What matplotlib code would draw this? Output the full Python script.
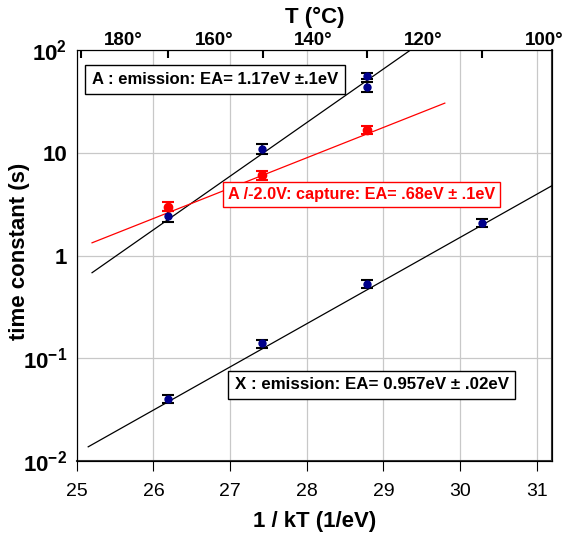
import numpy as np
import matplotlib
matplotlib.use("Agg")
import matplotlib.pyplot as plt

plt.rcParams['font.family'] = ['Liberation Sans', 'DejaVu Sans']
plt.rcParams['mathtext.fontset'] = 'custom'
plt.rcParams['mathtext.rm'] = 'Liberation Sans'
plt.rcParams['mathtext.bf'] = 'Liberation Sans:bold'

# data (x = 1/kT in 1/eV, y = time constant in s)
# A : emission (navy)
a_em_x = [26.19, 27.42, 28.79, 28.79]
a_em_y = [2.4, 11.0, 56.0, 44.0]
a_em_err = [0.3, 1.2, 4.0, 4.5]

# A /-2.0V capture (red)
a_cap_x = [26.19, 27.42, 28.79]
a_cap_y = [3.0, 6.1, 16.7]
a_cap_err = [0.3, 0.6, 1.6]

# X : emission (navy)
x_em_x = [26.19, 27.42, 28.79, 30.29]
x_em_y = [0.040, 0.139, 0.53, 2.08]
x_em_err = [0.0037, 0.012, 0.05, 0.2]

# fitted lines (end points)
a_em_line_x = [25.2, 29.35]
a_em_line_y = [0.68, 100.0]
a_cap_line_x = [25.2, 29.8]
a_cap_line_y = [1.33, 30.5]
x_em_line_x = [25.15, 31.2]
x_em_line_y = [0.0137, 4.8]

top_labels_T = [180, 160, 140, 120, 100]
top_ticks_T = [190, 170, 150, 130, 110, 100]
k_B = 8.617e-5


def inv_kT(t_c):
    return 1.0 / (k_B * (np.array(t_c) + 273.15))


fig = plt.figure(figsize=(5.64, 5.34), dpi=100)
ax = fig.add_axes([0.136, 0.137, 0.843, 0.769])

ax.set_yscale('log')
ax.set_xlim(25, 31.2)
ax.set_ylim(0.01, 100)

# lines
ax.plot(a_em_line_x, a_em_line_y, color='black', lw=0.9, zorder=3)
ax.plot(a_cap_line_x, a_cap_line_y, color='red', lw=0.9, zorder=3)
ax.plot(x_em_line_x, x_em_line_y, color='black', lw=0.9, zorder=3)

# points
ax.errorbar(a_em_x, a_em_y, yerr=a_em_err, fmt='o', color='#00008B', ms=5,
            ecolor='black', elinewidth=1.2, capsize=4, capthick=1.5, zorder=4)
ax.errorbar(a_cap_x, a_cap_y, yerr=a_cap_err, fmt='o', color='red', ms=6,
            ecolor='red', elinewidth=1.2, capsize=4, capthick=1.5, zorder=4)
ax.errorbar(x_em_x, x_em_y, yerr=x_em_err, fmt='o', color='#00008B', ms=5,
            ecolor='black', elinewidth=1.2, capsize=4, capthick=1.5, zorder=4)

# grid
ax.set_xticks([25, 26, 27, 28, 29, 30, 31])
ax.set_yticks([0.01, 0.1, 1, 10, 100])
ax.set_yticklabels([r'$\mathbf{10^{-2}}$', r'$\mathbf{10^{-1}}$', '1', '10', r'$\mathbf{10^{2}}$'],
                   fontsize=16, fontweight='bold')
ax.yaxis.set_minor_locator(matplotlib.ticker.NullLocator())
ax.grid(True, which='major', color='#c8c8c8', lw=0.9)
ax.set_axisbelow(True)
ax.tick_params(axis='x', direction='out', length=7, labelsize=14, pad=9)
ax.tick_params(axis='y', length=0, pad=7)

ax.spines['bottom'].set_color('#333333')
ax.spines['bottom'].set_linewidth(1.5)
ax.spines['right'].set_color('#333333')
ax.spines['right'].set_linewidth(1.5)

ax.set_xlabel('1 / kT (1/eV)', fontsize=16, fontweight='bold', labelpad=8)
ax.set_ylabel('time constant (s)', fontsize=16, fontweight='bold')
ax.yaxis.set_label_coords(-0.099, 0.51)

# top axis in deg C
ax2 = ax.twiny()
ax2.set_xlim(ax.get_xlim())
ax2.set_xticks(inv_kT(top_labels_T))
ax2.set_xticklabels([f'{t}\u00b0' for t in top_labels_T], fontsize=13.5, fontweight='bold')
ax2.set_xticks(inv_kT(top_ticks_T), minor=True)
ax2.tick_params(axis='x', which='major', length=0, pad=1)
ax2.tick_params(axis='x', which='minor', direction='in', length=6, width=1.5)
ax2.set_xlabel('T (\u00b0C)', fontsize=16, fontweight='bold', labelpad=6)

# annotations
box_k = dict(facecolor='white', edgecolor='black', lw=1, boxstyle='square,pad=0.4')
box_r = dict(facecolor='white', edgecolor='red', lw=1, boxstyle='square,pad=0.3')
ax.text(25.2, 52, 'A : emission: EA= 1.17eV \u00b1.1eV', fontsize=12, fontweight='bold',
        va='center', ha='left', bbox=box_k, zorder=5)
ax.text(26.97, 3.95, 'A /-2.0V: capture: EA= .68eV \u00b1 .1eV', fontsize=11.7, fontweight='bold',
        color='red', va='center', ha='left', bbox=box_r, zorder=5)
ax.text(27.06, 0.055, 'X : emission: EA= 0.957eV \u00b1 .02eV', fontsize=12.2, fontweight='bold',
        va='center', ha='left', bbox=box_k, zorder=5)

fig.savefig('out.png', dpi=100)
